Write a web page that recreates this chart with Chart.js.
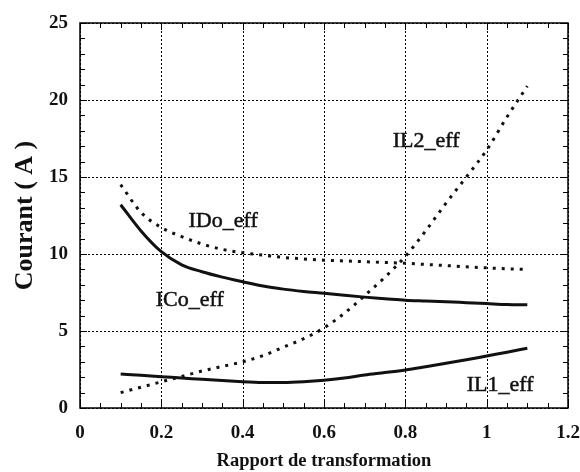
<!DOCTYPE html>
<html>
<head>
<meta charset="utf-8">
<script src="https://cdn.jsdelivr.net/npm/chart.js@4"></script>
<style>
  html, body { margin: 0; padding: 0; background: #fff; }
  #wrap { width: 580px; height: 472px; }
</style>
</head>
<body>
<div id="wrap"><canvas id="chartCourant" width="580" height="472"></canvas></div>
<script>
// rapport de transformation
const rapport = [0.1, 0.15, 0.2, 0.25, 0.3, 0.35, 0.4, 0.45, 0.5, 0.55, 0.6, 0.65, 0.7, 0.75, 0.8, 0.85, 0.9, 0.95, 1.0, 1.05, 1.1];

// courants efficaces (A)
const iDoEff = [14.5, 12.7, 11.72, 11.13, 10.65, 10.3, 10.08, 9.93, 9.78, 9.68, 9.6, 9.55, 9.5, 9.45, 9.4, 9.32, 9.25, 9.17, 9.1, 9.04, 9.0];
const iCoEff = [13.2, 11.5, 10.15, 9.3, 8.85, 8.5, 8.2, 7.92, 7.72, 7.57, 7.45, 7.32, 7.2, 7.1, 7.0, 6.95, 6.9, 6.84, 6.78, 6.72, 6.7];
const iL1Eff = [2.2, 2.12, 2.03, 1.95, 1.86, 1.78, 1.71, 1.66, 1.65, 1.7, 1.8, 1.95, 2.14, 2.3, 2.47, 2.68, 2.9, 3.13, 3.38, 3.62, 3.88];
const iL2Eff = [1.0, 1.35, 1.7, 2.05, 2.4, 2.7, 3.0, 3.4, 3.95, 4.5, 5.2, 6.15, 7.3, 8.5, 9.85, 11.5, 13.3, 15.0, 16.75, 18.9, 20.9];

// graduations
const xTickLabels = ['0', '0.2', '0.4', '0.6', '0.8', '1', '1.2'];
const yTickLabels = ['0', '5', '10', '15', '20', '25'];

// étiquettes des courbes (coordonnées en données)
const curveLabels = [
  { text: 'IDo_eff', x: 0.352, y: 12.1 },
  { text: 'ICo_eff', x: 0.27, y: 7.0 },
  { text: 'IL2_eff', x: 0.851, y: 17.3 },
  { text: 'IL1_eff', x: 1.033, y: 1.5 }
];

const serif = '"Liberation Serif", "DejaVu Serif", serif';

function toPoints(ys) {
  return rapport.map((x, i) => ({ x: x, y: ys[i] }));
}

// grille pointillée
const grillePlugin = {
  id: 'grille',
  beforeDatasetsDraw(chart) {
    const ctx = chart.ctx;
    const a = chart.chartArea;
    const xs = chart.scales.x, ys = chart.scales.y;
    ctx.save();
    ctx.strokeStyle = '#000';
    ctx.lineWidth = 1;
    ctx.setLineDash([2, 2]);
    ctx.beginPath();
    xTickLabels.forEach(t => {
      const px = Math.round(xs.getPixelForValue(parseFloat(t))) + 0.5;
      ctx.moveTo(px, a.top); ctx.lineTo(px, a.bottom);
    });
    yTickLabels.forEach(t => {
      const py = Math.round(ys.getPixelForValue(parseFloat(t))) + 0.5;
      ctx.moveTo(a.left, py); ctx.lineTo(a.right, py);
    });
    ctx.stroke();
    ctx.restore();
  }
};

// cadre, graduations intérieures et étiquettes
const cadrePlugin = {
  id: 'cadre',
  afterDatasetsDraw(chart) {
    const ctx = chart.ctx;
    const a = chart.chartArea;
    const xs = chart.scales.x, ys = chart.scales.y;
    ctx.save();
    ctx.strokeStyle = '#000';
    ctx.lineWidth = 1.5;
    ctx.strokeRect(a.left, a.top, a.right - a.left, a.bottom - a.top);

    ctx.lineWidth = 1;
    ctx.beginPath();
    for (let v = 0; v <= 1.2001; v += 0.05) {
      const px = Math.round(xs.getPixelForValue(v)) + 0.5;
      const major = Math.abs(v / 0.2 - Math.round(v / 0.2)) < 1e-6;
      const len = major ? 7 : 5;
      ctx.moveTo(px, a.bottom); ctx.lineTo(px, a.bottom - len);
      ctx.moveTo(px, a.top); ctx.lineTo(px, a.top + len);
    }
    for (let v = 0; v <= 25; v += 1) {
      const py = Math.round(ys.getPixelForValue(v)) + 0.5;
      const len = v % 5 === 0 ? 7 : 5;
      ctx.moveTo(a.left, py); ctx.lineTo(a.left + len, py);
      ctx.moveTo(a.right, py); ctx.lineTo(a.right - len, py);
    }
    ctx.stroke();

    ctx.fillStyle = '#111';
    ctx.strokeStyle = '#111';
    ctx.lineWidth = 0.5;
    ctx.font = '22px ' + serif;
    ctx.textAlign = 'center';
    ctx.textBaseline = 'middle';
    curveLabels.forEach(l => {
      const px = xs.getPixelForValue(l.x);
      const py = ys.getPixelForValue(l.y);
      ctx.fillText(l.text, px, py);
      ctx.strokeText(l.text, px, py);
    });
    ctx.restore();
  }
};

const data = {
  datasets: [
    {
      label: 'IDo_eff',
      data: toPoints(iDoEff),
      borderColor: '#111',
      borderWidth: 3,
      borderDash: [3, 6],
      pointRadius: 0,
      cubicInterpolationMode: 'monotone'
    },
    {
      label: 'ICo_eff',
      data: toPoints(iCoEff),
      borderColor: '#111',
      borderWidth: 3,
      pointRadius: 0,
      cubicInterpolationMode: 'monotone'
    },
    {
      label: 'IL1_eff',
      data: toPoints(iL1Eff),
      borderColor: '#111',
      borderWidth: 3,
      pointRadius: 0,
      cubicInterpolationMode: 'monotone'
    },
    {
      label: 'IL2_eff',
      data: toPoints(iL2Eff),
      borderColor: '#111',
      borderWidth: 3,
      borderDash: [3, 6],
      pointRadius: 0,
      cubicInterpolationMode: 'monotone'
    }
  ]
};

const config = {
  type: 'line',
  data: data,
  options: {
    responsive: false,
    animation: false,
    layout: { padding: { top: 23, right: 12, left: 0, bottom: 0 } },
    plugins: {
      legend: { display: false },
      tooltip: { enabled: false }
    },
    scales: {
      x: {
        type: 'linear',
        min: 0,
        max: 1.2,
        afterBuildTicks(scale) {
          scale.ticks = xTickLabels.map(t => ({ value: parseFloat(t) }));
        },
        afterFit(scale) {
          scale.height = 64;
          scale.paddingLeft = 0;
          scale.paddingRight = 0;
        },
        grid: { display: false, drawTicks: false },
        border: { display: false },
        ticks: {
          color: '#111',
          padding: 14,
          font: { family: serif, size: 19, weight: 'bold' },
          callback: (v, i) => xTickLabels[i]
        },
        title: {
          display: true,
          text: 'Rapport de transformation',
          color: '#111',
          font: { family: serif, size: 18.5, weight: 'bold' },
          padding: { top: 8, bottom: 0 }
        }
      },
      y: {
        type: 'linear',
        min: 0,
        max: 25,
        afterBuildTicks(scale) {
          scale.ticks = yTickLabels.map(t => ({ value: parseFloat(t) }));
        },
        afterFit(scale) {
          scale.width = 80;
          scale.paddingTop = 0;
          scale.paddingBottom = 0;
        },
        grid: { display: false, drawTicks: false },
        border: { display: false },
        ticks: {
          color: '#111',
          padding: 12,
          font: { family: serif, size: 19, weight: 'bold' },
          callback: (v, i) => yTickLabels[i]
        },
        title: {
          display: true,
          text: 'Courant ( A )',
          color: '#111',
          font: { family: serif, size: 26, weight: 'bold' },
          padding: { top: 10, bottom: 0 }
        }
      }
    }
  },
  plugins: [grillePlugin, cadrePlugin]
};

const chartCourant = new Chart(document.getElementById('chartCourant'), config);
</script>
</body>
</html>
